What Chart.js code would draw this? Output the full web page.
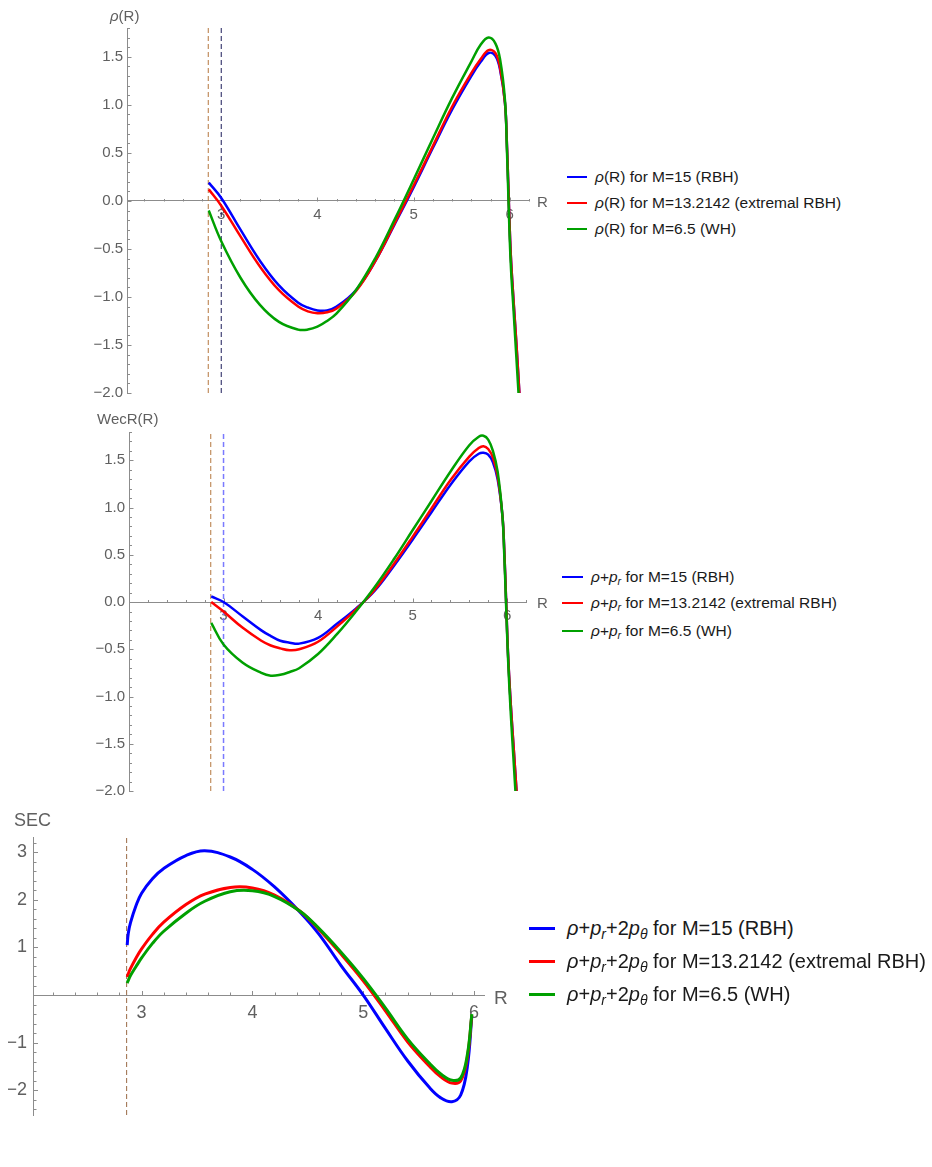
<!DOCTYPE html>
<html>
<head>
<meta charset="utf-8">
<script src="https://cdn.jsdelivr.net/npm/chart.js@4.4.1/dist/chart.umd.min.js"></script>
<style>
  body { margin: 0; background: #fff; }
  #page { position: relative; width: 932px; height: 1167px; font-family: "Liberation Sans", Arial, sans-serif; overflow: hidden; }
  canvas { position: absolute; left: 0; }
  .lbl { position: absolute; color: #606060; white-space: nowrap; line-height: 1; }
  .leg { position: absolute; white-space: nowrap; color: #1a1a1a; display: flex; align-items: center; }
  .sw { display: inline-block; }
  sub { font-size: 70%; vertical-align: -0.3em; line-height: 0; }
</style>
</head>
<body>
<div id="page">
  <canvas id="c1" width="560" height="410" style="top:0px"></canvas>
  <canvas id="c2" width="560" height="400" style="top:410px"></canvas>
  <canvas id="c3" width="500" height="340" style="top:810px"></canvas>
</div>
<script>
// series: M=15 (RBH), M=13.2142 (extremal RBH), M=6.5 (WH)
const massLabels = ['M=15 (RBH)', 'M=13.2142 (extremal RBH)', 'M=6.5 (WH)'];
const seriesColors = ['#0000ff', '#ff0000', '#00a000'];

// panel 1 : rho(R)
const rhoR    = [2.87, 3.0, 3.2, 3.4, 3.6, 3.8, 3.9, 4.0, 4.1, 4.2, 4.4, 4.6, 4.8, 5.0, 5.2, 5.4, 5.6, 5.7, 5.78, 5.85, 5.9, 5.95, 5.97, 5.99, 6.01, 6.04, 6.07, 6.1];
const rhoM15  = [0.19, 0.03, -0.30, -0.62, -0.88, -1.06, -1.11, -1.14, -1.14, -1.10, -0.93, -0.63, -0.25, 0.14, 0.55, 0.95, 1.30, 1.45, 1.54, 1.51, 1.36, 1.02, 0.6, 0.0, -0.55, -1.05, -1.5, -2.0];
const rhoM13  = [0.12, -0.05, -0.37, -0.68, -0.93, -1.10, -1.15, -1.17, -1.16, -1.12, -0.94, -0.63, -0.24, 0.16, 0.57, 0.98, 1.33, 1.48, 1.57, 1.54, 1.38, 1.02, 0.6, 0.0, -0.55, -1.05, -1.5, -2.0];
const rhoM65  = [-0.10, -0.42, -0.80, -1.08, -1.26, -1.34, -1.34, -1.31, -1.25, -1.17, -0.93, -0.60, -0.20, 0.22, 0.65, 1.07, 1.45, 1.63, 1.70, 1.64, 1.47, 1.05, 0.55, -0.1, -0.65, -1.15, -1.65, -2.15];

// panel 2 : WecR(R) = rho + p_r
const wecR    = [2.87, 3.0, 3.2, 3.4, 3.5, 3.6, 3.7, 3.8, 4.0, 4.2, 4.4, 4.6, 4.8, 5.0, 5.2, 5.4, 5.6, 5.7, 5.75, 5.8, 5.85, 5.9, 5.95, 5.97, 5.99, 6.01, 6.04, 6.07, 6.1];
const wecM15  = [0.06, 0.0, -0.15, -0.30, -0.36, -0.41, -0.43, -0.44, -0.38, -0.23, -0.07, 0.12, 0.38, 0.66, 0.95, 1.24, 1.49, 1.57, 1.58, 1.56, 1.48, 1.30, 0.92, 0.55, 0.0, -0.55, -1.1, -1.55, -2.0];
const wecM13  = [0.0, -0.10, -0.27, -0.41, -0.46, -0.49, -0.51, -0.50, -0.42, -0.26, -0.08, 0.13, 0.40, 0.69, 0.99, 1.29, 1.54, 1.63, 1.65, 1.62, 1.53, 1.33, 0.92, 0.55, 0.0, -0.55, -1.1, -1.55, -2.0];
const wecM65  = [-0.22, -0.45, -0.64, -0.75, -0.78, -0.77, -0.74, -0.70, -0.55, -0.34, -0.10, 0.16, 0.45, 0.76, 1.07, 1.38, 1.66, 1.75, 1.76, 1.72, 1.60, 1.38, 0.92, 0.5, -0.05, -0.6, -1.2, -1.7, -2.2];

// panel 3 : SEC = rho + p_r + 2 p_theta
const secR    = [2.87, 2.88, 2.9, 2.95, 3.0, 3.1, 3.2, 3.4, 3.57, 3.8, 4.0, 4.2, 4.43, 4.6, 4.8, 5.0, 5.2, 5.4, 5.6, 5.7, 5.8, 5.88, 5.94, 5.98];
const secM15  = [1.05, 1.30, 1.52, 1.88, 2.14, 2.45, 2.66, 2.93, 3.03, 2.90, 2.64, 2.27, 1.74, 1.28, 0.62, 0.0, -0.70, -1.38, -1.95, -2.16, -2.24, -2.1, -1.5, -0.45];
const secM13  = [0.38, 0.45, 0.56, 0.78, 0.97, 1.28, 1.53, 1.90, 2.12, 2.26, 2.25, 2.10, 1.76, 1.38, 0.86, 0.30, -0.33, -0.98, -1.50, -1.72, -1.85, -1.80, -1.30, -0.42];
const secM65  = [0.25, 0.31, 0.41, 0.60, 0.78, 1.09, 1.34, 1.72, 1.97, 2.17, 2.19, 2.07, 1.76, 1.40, 0.90, 0.35, -0.27, -0.92, -1.44, -1.66, -1.79, -1.74, -1.25, -0.40];

// dashed verticals
const outerRadius = 2.865;
const innerRadius = 3.0;

// tick labels
const xTickValues = [3, 4, 5, 6];
const rhoYTicks = [-2, -1.5, -1, -0.5, 0, 0.5, 1, 1.5];
const secYTicks = [-2, -1, 1, 2, 3];

const axisColor = '#8c8c8c';
const labelColor = '#606060';
const family = '"Liberation Sans", Arial, sans-serif';

const tickMarks = {
  id: 'tickMarks',
  beforeDatasetsDraw(chart, args, o) {
    const ctx = chart.ctx, xs = chart.scales.x, ys = chart.scales.y;
    const yAxis = Math.round(ys.getPixelForValue(0)) + 0.5;
    const xAxis = Math.round(xs.left) + 0.5;
    const steps = (min, max, step) => {
      const out = [];
      for (let k = Math.ceil(min / step - 1e-9); k * step <= max + 1e-9; k++) out.push(k * step);
      return out;
    };
    const isMajor = (v, m) => Math.abs(v / m - Math.round(v / m)) < 1e-6;
    ctx.save();
    ctx.strokeStyle = axisColor;
    ctx.lineWidth = 1;
    ctx.beginPath();
    steps(xs.min, xs.max, o.xMinor).forEach(v => {
      if (v <= xs.min + 1e-6) return;
      const px = Math.round(xs.getPixelForValue(v)) + 0.5;
      ctx.moveTo(px, yAxis);
      ctx.lineTo(px, yAxis - (isMajor(v, o.xMajor) ? o.major : o.minor));
    });
    steps(ys.min, ys.max, o.yMinor).forEach(v => {
      const py = Math.round(ys.getPixelForValue(v)) + 0.5;
      ctx.moveTo(xAxis, py);
      ctx.lineTo(xAxis + (isMajor(v, o.yMajor) ? o.major : o.minor), py);
    });
    ctx.stroke();
    ctx.restore();
  }
};

function curve(xs, ys, color, width, order) {
  return {
    data: xs.map((x, i) => ({x, y: ys[i]})),
    borderColor: color, borderWidth: width, pointRadius: 0,
    tension: 0.4, order
  };
}

function dashed(x, y0, y1, color, width) {
  return {
    data: [{x, y: y0}, {x, y: y1}],
    borderColor: color, borderWidth: width, borderDash: [5, 3],
    pointRadius: 0, order: 10
  };
}

function makeChart(id, p) {
  return new Chart(document.getElementById(id), {
    type: 'line',
    data: { datasets: p.datasets },
    options: {
      responsive: false,
      animation: false,
      devicePixelRatio: 1,
      layout: { padding: p.padding },
      plugins: { legend: { display: false }, tooltip: { enabled: false }, tickMarks: p.marks },
      scales: {
        x: {
          type: 'linear', min: p.xMin, max: p.xMax, position: { y: 0 },
          grid: { display: false, drawTicks: false },
          border: { display: true, color: axisColor, width: 1 },
          afterBuildTicks: s => { s.ticks = xTickValues.map(v => ({ value: v })); },
          ticks: { padding: p.xPad, color: labelColor, font: { family, size: p.fontSize }, maxRotation: 0, autoSkip: false, callback: v => String(v) }
        },
        y: {
          type: 'linear', min: p.yMin, max: p.yMax, position: 'left',
          afterFit: s => { s.width = p.yWidth; },
          grid: { display: false, drawTicks: false },
          border: { display: true, color: axisColor, width: 1 },
          afterBuildTicks: s => { s.ticks = p.yTicks.map(v => ({ value: v })); },
          ticks: { padding: p.yPad, color: labelColor, font: { family, size: p.fontSize }, autoSkip: false, callback: p.yFmt }
        }
      }
    },
    plugins: [tickMarks]
  });
}

const fmt1 = v => v.toFixed(1).replace('-', '\u2212');
const fmt0 = v => String(v).replace('-', '\u2212');

makeChart('c1', {
  datasets: [
    curve(rhoR, rhoM15, seriesColors[0], 2.5, 3),
    curve(rhoR, rhoM13, seriesColors[1], 2.5, 2),
    curve(rhoR, rhoM65, seriesColors[2], 2.5, 1),
    dashed(outerRadius, -2, 1.8, '#b5773f', 1),
    dashed(innerRadius, -2, 1.8, '#1c1c5a', 1)
  ],
  padding: { left: 87, top: 28, right: 31, bottom: 17 },
  xMin: 2.02, xMax: 6.2, yMin: -2, yMax: 1.8,
  yTicks: rhoYTicks, yFmt: fmt1, yWidth: 40, fontSize: 15, xPad: 5, yPad: 4,
  marks: { xMinor: 0.2, xMajor: 1, yMinor: 0.1, yMajor: 0.5, major: 4, minor: 2.5 }
});

makeChart('c2', {
  datasets: [
    curve(wecR, wecM15, seriesColors[0], 2.5, 3),
    curve(wecR, wecM13, seriesColors[1], 2.5, 2),
    curve(wecR, wecM65, seriesColors[2], 2.5, 1),
    dashed(outerRadius, -2, 1.8, '#b5773f', 1),
    dashed(innerRadius, -2, 1.8, '#7a7aff', 1.5)
  ],
  padding: { left: 89, top: 22, right: 34, bottom: 19 },
  xMin: 2.0, xMax: 6.2, yMin: -2, yMax: 1.8,
  yTicks: rhoYTicks, yFmt: fmt1, yWidth: 40, fontSize: 15, xPad: 5, yPad: 4,
  marks: { xMinor: 0.2, xMajor: 1, yMinor: 0.1, yMajor: 0.5, major: 4, minor: 2.5 }
});

makeChart('c3', {
  datasets: [
    curve(secR, secM15, seriesColors[0], 3, 3),
    curve(secR, secM13, seriesColors[1], 3, 2),
    curve(secR, secM65, seriesColors[2], 3, 1),
    dashed(outerRadius, -2.52, 3.32, '#9a6a45', 1)
  ],
  padding: { left: 8, top: 27, right: 16, bottom: 35 },
  xMin: 2.02, xMax: 6.09, yMin: -2.52, yMax: 3.32,
  yTicks: secYTicks, yFmt: fmt0, yWidth: 25, fontSize: 18, xPad: 7, yPad: 6,
  marks: { xMinor: 0.2, xMajor: 1, yMinor: 0.2, yMajor: 1, major: 4.5, minor: 3 }
});

// text labels and legends
const page = document.getElementById('page');
function label(html, left, top, size) {
  const d = document.createElement('div');
  d.className = 'lbl';
  d.style.left = left + 'px';
  d.style.top = top + 'px';
  d.style.fontSize = size + 'px';
  d.innerHTML = html;
  page.appendChild(d);
}
function legend(prefix, swLeft, swW, textLeft, centers, size, lw) {
  massLabels.forEach((m, i) => {
    const row = document.createElement('div');
    row.className = 'leg';
    row.style.left = swLeft + 'px';
    row.style.top = (centers[i] - size * 0.6) + 'px';
    row.style.height = (size * 1.2) + 'px';
    row.style.fontSize = size + 'px';
    row.innerHTML = '<span class="sw" style="width:' + swW + 'px;height:' + lw + 'px;background:' + seriesColors[i] +
      ';margin-right:' + (textLeft - swLeft - swW) + 'px"></span><span>' + prefix + ' for ' + m + '</span>';
    page.appendChild(row);
  });
}

label('<i>\u03c1</i>(R)', 110, 8, 15);
label('R', 537, 194, 15);
label('WecR(R)', 97, 411, 15);
label('R', 537, 595, 15);
label('SEC', 14, 811, 18);
label('R', 494, 988, 19);

legend('<i>\u03c1</i>(R)', 567, 20, 595, [177, 203, 229], 15.5, 2.5);
legend('<i>\u03c1</i>+<i>p</i><sub><i>r</i></sub>', 562, 21, 591, [577, 603, 631], 15.5, 2.5);
legend('<i>\u03c1</i>+<i>p</i><sub><i>r</i></sub>+2<i>p</i><sub><i>\u03b8</i></sub>', 529, 26, 567, [928, 961, 994], 20, 3);
</script>
</body>
</html>
